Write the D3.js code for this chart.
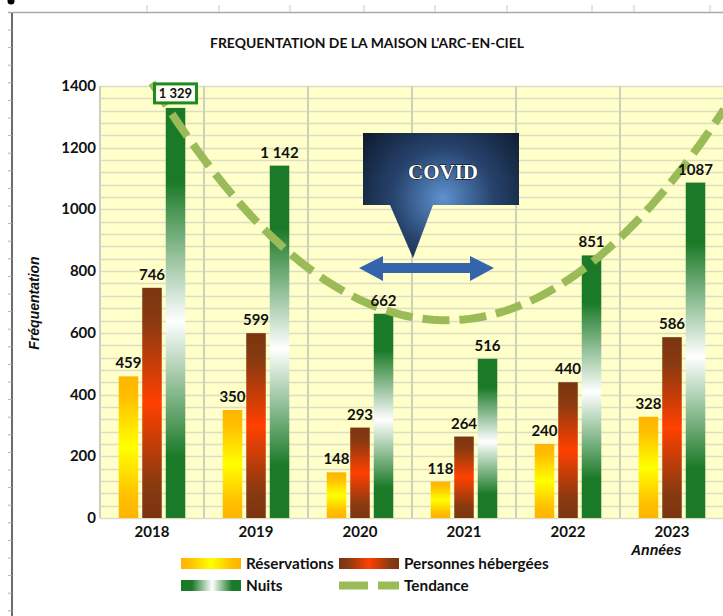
<!DOCTYPE html>
<html>
<head>
<meta charset="utf-8">
<script src="https://cdn.jsdelivr.net/npm/d3@7"></script>
<style>
  html, body { margin: 0; padding: 0; background: #fff; }
  svg { display: block; }
</style>
</head>
<body>
<div id="chart"></div>
<script>
// chart data
const years = ["2018", "2019", "2020", "2021", "2022", "2023"];
const reservations = [459, 350, 148, 118, 240, 328];
const personnes = [746, 599, 293, 264, 440, 586];
const nuits = [1329, 1142, 662, 516, 851, 1087];
const nuitsLabels = ["1 329", "1 142", "662", "516", "851", "1087"];
const yTicks = [0, 200, 400, 600, 800, 1000, 1200, 1400];
const seriesNames = ["Réservations", "Personnes hébergées", "Nuits"];

const width = 723, height = 616;
const plot = { left: 100, right: 724, top: 86, bottom: 518 };
const calibri = "Lato, 'Open Sans', sans-serif";
const arial = "'Liberation Sans', Arial, sans-serif";

const svg = d3.select("#chart").append("svg")
    .attr("width", width)
    .attr("height", height);

const defs = svg.append("defs");

// vertical gradient helper (per-bar bounding box)
function vGrad(id, stops) {
    const g = defs.append("linearGradient").attr("id", id)
        .attr("x1", 0).attr("y1", 0).attr("x2", 0).attr("y2", 1);
    stops.forEach(s => g.append("stop").attr("offset", s[0]).attr("stop-color", s[1]));
}
function hGrad(id, stops) {
    const g = defs.append("linearGradient").attr("id", id)
        .attr("x1", 0).attr("y1", 0).attr("x2", 1).attr("y2", 0);
    stops.forEach(s => g.append("stop").attr("offset", s[0]).attr("stop-color", s[1]));
}
const resStops = [[0, "#FFB400"], [0.15, "#FFC000"], [0.5, "#FFFF00"], [0.85, "#FFC000"], [1, "#FFB400"]];
const perStops = [[0, "#7A3510"], [0.15, "#8A3A10"], [0.5, "#FF4000"], [0.85, "#8A3A10"], [1, "#7A3510"]];
const nuiStops = [[0, "#1B7A28"], [0.18, "#1B7A28"], [0.52, "#FFFFFF"], [0.85, "#1B7A28"], [1, "#1B7A28"]];
vGrad("g-res", resStops);
vGrad("g-per", perStops);
vGrad("g-nui", nuiStops);
hGrad("l-res", resStops);
hGrad("l-per", perStops);
hGrad("l-nui", nuiStops);

// callout gradient
const rg = defs.append("radialGradient").attr("id", "g-covid")
    .attr("gradientUnits", "userSpaceOnUse")
    .attr("cx", 443).attr("cy", 198).attr("r", 110);
rg.append("stop").attr("offset", 0).attr("stop-color", "#5E92D0");
rg.append("stop").attr("offset", 0.45).attr("stop-color", "#27446E");
rg.append("stop").attr("offset", 1).attr("stop-color", "#0A1424");

// outer frame like the source document
svg.append("line").attr("x1", 8).attr("x2", width).attr("y1", 12.5).attr("y2", 12.5)
    .attr("stroke", "#A8A8A8").attr("stroke-width", 1.5);
svg.append("line").attr("x1", 12).attr("x2", 12).attr("y1", 13).attr("y2", height)
    .attr("stroke", "#3A3A3A").attr("stroke-width", 1.5);
svg.append("g").selectAll("line")
    .data(d3.range(30, height, 17.6))
    .enter().append("line")
    .attr("x1", 8).attr("x2", 12).attr("y1", d => d).attr("y2", d => d)
    .attr("stroke", "#B0B0B0");
svg.append("g").selectAll("line")
    .data([147, 219, 290, 364, 435, 507, 592, 634, 710])
    .enter().append("line")
    .attr("x1", d => d).attr("x2", d => d).attr("y1", 5).attr("y2", 12)
    .attr("stroke", "#C8C8C8");
svg.append("circle").attr("cx", 11).attr("cy", 1).attr("r", 3.5).attr("fill", "#000");

// scales
const x = d3.scaleBand().domain(years).range([plot.left, plot.right]);
const xs = d3.scaleBand().domain(seriesNames)
    .range([x.bandwidth() * 0.18, x.bandwidth() * 0.82]).paddingInner(0.17);
const y = d3.scaleLinear().domain([0, 1400]).range([plot.bottom, plot.top]);

// plot background + grid
svg.append("rect")
    .attr("x", plot.left).attr("y", plot.top)
    .attr("width", plot.right - plot.left).attr("height", plot.bottom - plot.top)
    .attr("fill", "#FFFFC9");

svg.append("g").selectAll("line")
    .data(d3.range(0, 1401, 40))
    .enter().append("line")
    .attr("x1", plot.left).attr("x2", plot.right)
    .attr("y1", d => Math.round(y(d)) + 0.5).attr("y2", d => Math.round(y(d)) + 0.5)
    .attr("stroke", "#DEDCC4").attr("stroke-width", 1.5);

svg.append("g").selectAll("line")
    .data(years)
    .enter().append("line")
    .attr("x1", d => x(d)).attr("x2", d => x(d))
    .attr("y1", plot.top).attr("y2", plot.bottom)
    .attr("stroke", "#CFCFC0").attr("stroke-width", 2);

// y axis labels
svg.append("g").selectAll("text")
    .data(yTicks)
    .enter().append("text")
    .attr("x", 96).attr("y", d => y(d) + 5)
    .attr("text-anchor", "end")
    .attr("font-family", calibri).attr("font-weight", "bold").attr("font-size", 15)
    .attr("fill", "#111")
    .text(d => d);

// x axis labels
svg.append("g").selectAll("text")
    .data(years)
    .enter().append("text")
    .attr("x", d => x(d) + x.bandwidth() / 2).attr("y", 537)
    .attr("text-anchor", "middle")
    .attr("font-family", calibri).attr("font-weight", "bold").attr("font-size", 15)
    .attr("fill", "#111")
    .text(d => d);

// bars
const series = [
    { name: seriesNames[0], values: reservations, fill: "url(#g-res)", labels: reservations.map(String) },
    { name: seriesNames[1], values: personnes, fill: "url(#g-per)", labels: personnes.map(String) },
    { name: seriesNames[2], values: nuits, fill: "url(#g-nui)", labels: nuitsLabels }
];

series.forEach(s => {
    svg.append("g").selectAll("rect")
        .data(years)
        .enter().append("rect")
        .attr("x", (d) => x(d) + xs(s.name))
        .attr("width", xs.bandwidth())
        .attr("y", (d, i) => y(s.values[i]))
        .attr("height", (d, i) => y(0) - y(s.values[i]))
        .attr("fill", s.fill);
});

// trend line (2nd order polynomial fit of Nuits, like the Excel trendline)
const n = nuits.length;
const tc = d3.range(n).map(i => i - (n - 1) / 2);
const sT2 = d3.sum(tc, t => t * t), sT4 = d3.sum(tc, t => t ** 4);
const sY = d3.sum(nuits), sTY = d3.sum(tc, (t, i) => t * nuits[i]), sT2Y = d3.sum(tc, (t, i) => t * t * nuits[i]);
const b1 = sTY / sT2;
const c2 = (sT2Y - sT2 * sY / n) / (sT4 - sT2 * sT2 / n);
const a0 = (sY - c2 * sT2) / n;
const idxX = d3.scaleLinear().domain([0, n - 1])
    .range([x(years[0]) + x.bandwidth() / 2, x(years[n - 1]) + x.bandwidth() / 2]);
const trendPts = d3.range(0, n - 0.5 + 0.001, 0.05).map(i => {
    const t = i - (n - 1) / 2;
    return [idxX(i), y(a0 + b1 * t + c2 * t * t)];
});
svg.append("path")
    .attr("d", d3.line().curve(d3.curveLinear)(trendPts))
    .attr("fill", "none")
    .attr("stroke", "#9BBB59")
    .attr("stroke-width", 8)
    .attr("stroke-dasharray", "27,10");

// value labels
series.forEach((s, si) => {
    svg.append("g").selectAll("text")
        .data(years)
        .enter().append("text")
        .filter((d, i) => !(si === 2 && i === 0))
        .attr("x", d => x(d) + xs(s.name) + xs.bandwidth() / 2)
        .attr("y", d => y(s.values[years.indexOf(d)]) - 8)
        .attr("text-anchor", "middle")
        .attr("font-family", calibri).attr("font-weight", "bold").attr("font-size", 15)
        .attr("fill", "#111")
        .text(d => s.labels[years.indexOf(d)]);
});

// boxed label for the 2018 Nuits value
const bx = x(years[0]) + xs(seriesNames[2]) + xs.bandwidth() / 2;
svg.append("rect")
    .attr("x", bx - 21).attr("y", y(nuits[0]) - 24)
    .attr("width", 42).attr("height", 19)
    .attr("fill", "#FFFFF4").attr("stroke", "#1E8A22").attr("stroke-width", 3);
svg.append("text")
    .attr("x", bx).attr("y", y(nuits[0]) - 9.5)
    .attr("text-anchor", "middle")
    .attr("font-family", calibri).attr("font-weight", "bold").attr("font-size", 13)
    .attr("fill", "#111")
    .text(nuitsLabels[0]);

// COVID callout
svg.append("path")
    .attr("d", "M363,133 H519 V205 H433 L413,258 L390,205 H363 Z")
    .attr("fill", "url(#g-covid)");
svg.append("text")
    .attr("x", 443).attr("y", 179)
    .attr("text-anchor", "middle")
    .attr("font-family", "'Liberation Serif', 'DejaVu Serif', serif")
    .attr("font-weight", "bold").attr("font-size", 21)
    .attr("fill", "#fff").attr("stroke", "#000").attr("stroke-width", 1)
    .attr("paint-order", "stroke")
    .text("COVID");

// double arrow
svg.append("path")
    .attr("d", "M359,268 L383,256 L383,263 L470,263 L470,256 L494,268 L470,281 L470,273 L383,273 L383,281 Z")
    .attr("fill", "#3564AD");

// axis titles
svg.append("text")
    .attr("transform", "translate(39,303) rotate(-90)")
    .attr("text-anchor", "middle")
    .attr("font-family", arial).attr("font-style", "italic").attr("font-weight", "bold")
    .attr("font-size", 14).attr("fill", "#111")
    .text("Fréquentation");
svg.append("text")
    .attr("x", 631).attr("y", 555)
    .attr("font-family", arial).attr("font-style", "italic").attr("font-weight", "bold")
    .attr("font-size", 14).attr("fill", "#111")
    .text("Années");

// title
svg.append("text")
    .attr("x", 210).attr("y", 48)
    .attr("textLength", 314).attr("lengthAdjust", "spacingAndGlyphs")
    .attr("font-family", calibri).attr("font-weight", "bold").attr("font-size", 13)
    .attr("fill", "#111")
    .text("FREQUENTATION DE LA MAISON L'ARC-EN-CIEL");

// legend
const legend = svg.append("g").attr("font-family", calibri).attr("font-weight", "bold")
    .attr("font-size", 15.3).attr("fill", "#111");
const legendItems = [
    { label: "Réservations", fill: "url(#l-res)", lx: 181, ly: 558 },
    { label: "Personnes hébergées", fill: "url(#l-per)", lx: 339, ly: 558 },
    { label: "Nuits", fill: "url(#l-nui)", lx: 181, ly: 580 },
    { label: "Tendance", fill: null, lx: 339, ly: 580 }
];
legendItems.forEach(it => {
    if (it.fill) {
        legend.append("rect").attr("x", it.lx).attr("y", it.ly)
            .attr("width", 60).attr("height", 11).attr("fill", it.fill);
    } else {
        legend.append("line")
            .attr("x1", it.lx).attr("x2", it.lx + 60)
            .attr("y1", it.ly + 5.5).attr("y2", it.ly + 5.5)
            .attr("stroke", "#9BBB59").attr("stroke-width", 8)
            .attr("stroke-dasharray", "29,10");
    }
    legend.append("text").attr("x", it.lx + 65).attr("y", it.ly + 10.5).text(it.label);
});
</script>
</body>
</html>
